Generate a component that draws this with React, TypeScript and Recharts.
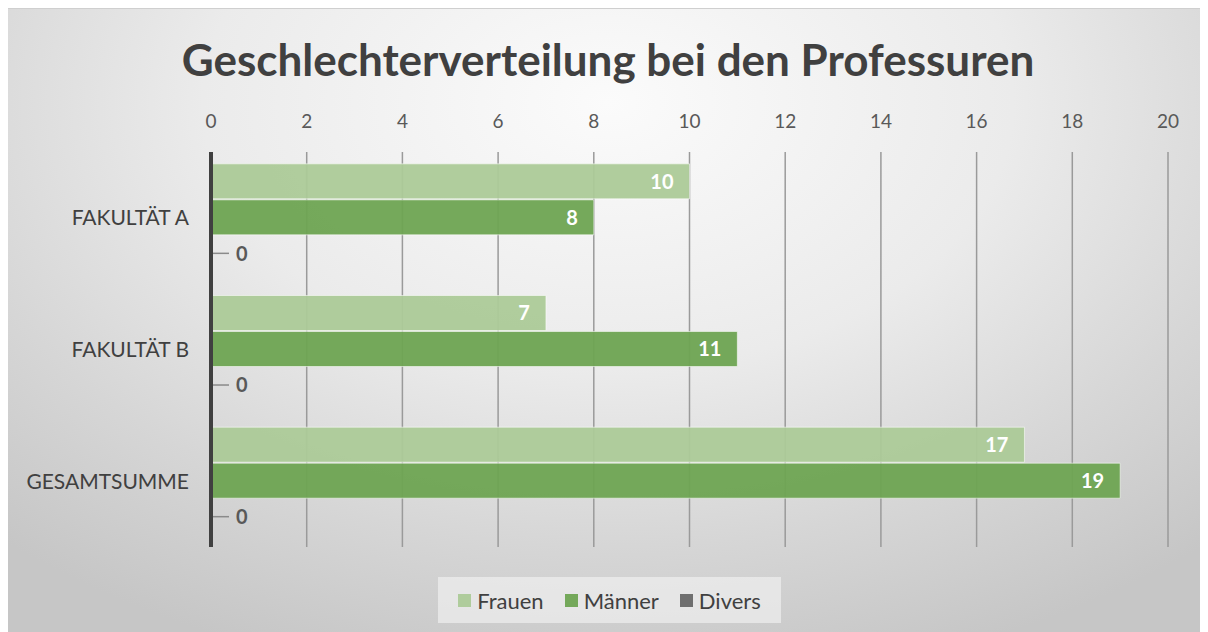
import { Bar, BarChart, CartesianGrid, LabelList, XAxis, YAxis } from 'recharts';

const categories = ['FAKULTÄT A', 'FAKULTÄT B', 'GESAMTSUMME'];
const frauen = [10, 7, 17];
const maenner = [8, 11, 19];
const divers = [0, 0, 0];
const xTicks = [0, 2, 4, 6, 8, 10, 12, 14, 16, 18, 20];

const series = [
  { key: 'frauen', name: 'Frauen', color: '#acca98', opacity: 0.95 },
  { key: 'maenner', name: 'Männer', color: '#6ea452', opacity: 0.95 },
  { key: 'divers', name: 'Divers', color: '#6f6f6f', opacity: 1 },
];

const data = categories.map((name, i) => ({
  name,
  frauen: frauen[i],
  maenner: maenner[i],
  divers: divers[i],
}));

const FONT = 'Lato, "Open Sans", sans-serif';

function BarValue(props: any) {
  const { x, y, width, height, value } = props;
  if (!value) return null;
  return (
    <text
      x={x + width - 16}
      y={y + height / 2}
      dy="0.36em"
      textAnchor="end"
      fill="#ffffff"
      fontSize={20}
      fontWeight={700}
      fontFamily={FONT}
    >
      {value}
    </text>
  );
}

// zero-length bars: Excel shows a short leader and a dark "0"
function ZeroBar(props: any) {
  const { x, y, height, value } = props;
  const cy = y + height / 2;
  return (
    <g>
      <line x1={x + 2} x2={x + 18} y1={cy} y2={cy} stroke="#8a8a8a" strokeWidth={1.5} />
      <text x={x + 25} y={cy} dy="0.36em" fill="#595959" fontSize={20} fontWeight={700} fontFamily={FONT}>
        {Array.isArray(value) ? value[1] : value}
      </text>
    </g>
  );
}

function LegendBox() {
  return (
    <div
      style={{
        position: 'absolute',
        left: 430,
        top: 568,
        width: 343,
        height: 46,
        display: 'flex',
        justifyContent: 'center',
        gap: 21,
        alignItems: 'center',
        background: 'rgba(240,240,240,0.7)',
        fontFamily: FONT,
        fontSize: 22,
        color: '#404040',
      }}
    >
      {series.map((s) => (
        <span key={s.key} style={{ display: 'flex', alignItems: 'center', gap: 6 }}>
          <span style={{ width: 13, height: 13, background: s.color, opacity: s.opacity }} />
          {s.name}
        </span>
      ))}
    </div>
  );
}

export default function App() {
  return (
    <div
      style={{
        position: 'relative',
        width: 1200,
        height: 624,
        borderTop: '1px solid #cfcfcf',
        boxSizing: 'border-box',
        background: 'radial-gradient(ellipse 75% 95% at 50% 15%, #fbfbfb 0%, #ebebeb 45%, #d6d6d6 75%, #c6c6c6 100%)',
      }}
    >
      <div
        style={{
          position: 'absolute',
          top: 24,
          left: 0,
          width: 1200,
          textAlign: 'center',
          fontFamily: FONT,
          fontWeight: 700,
          fontSize: 44,
          color: '#404040',
        }}
      >
        Geschlechterverteilung bei den Professuren
      </div>
      <BarChart
        width={1200}
        height={623}
        data={data}
        layout="vertical"
        margin={{ top: 113, right: 40, bottom: 85, left: 13 }}
        barCategoryGap="9%"
        barGap={1}
      >
        <CartesianGrid horizontal={false} stroke="#9a9a9a" strokeWidth={1.5} />
        <XAxis
          type="number"
          orientation="top"
          domain={[0, 20]}
          ticks={xTicks}
          height={30}
          axisLine={false}
          tickLine={false}
          tickSize={0}
          tickMargin={24}
          tick={{ fill: '#595959', fontSize: 19, fontFamily: FONT }}
        />
        <YAxis
          type="category"
          dataKey="name"
          width={190}
          tickLine={false}
          axisLine={{ stroke: '#404040', strokeWidth: 4 }}
          tickMargin={16}
          tick={{ fill: '#404040', fontSize: 21, fontFamily: FONT }}
        />
        {series.map((s) => (
          <Bar
            key={s.key}
            dataKey={s.key}
            name={s.name}
            fill={s.color}
            fillOpacity={s.opacity}
            stroke="rgba(255,255,255,0.55)"
            strokeWidth={1}
            isAnimationActive={false}
            shape={s.key === 'divers' ? ZeroBar : undefined}
          >
            {s.key !== 'divers' && <LabelList dataKey={s.key} content={BarValue} />}
          </Bar>
        ))}
      </BarChart>
      <LegendBox />
    </div>
  );
}
